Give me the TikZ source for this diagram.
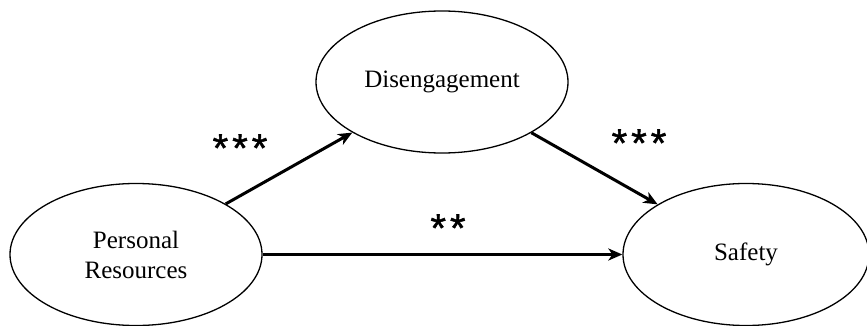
\documentclass[tikz,border=0pt]{standalone}
\usepackage{fontspec}
\setmainfont{Liberation Serif}
\newfontfamily\starfont[FakeBold=1.2]{Liberation Sans}
\usetikzlibrary{shapes.geometric,arrows.meta}
\tikzset{
  var/.style={ellipse, draw, line width=1.3pt, minimum width=252pt, minimum height=142pt, inner sep=0pt, align=center, font=\fontsize{25}{30}\selectfont},
  path/.style={line width=3pt, -{Stealth[length=14pt,width=12pt,inset=4pt]}},
  sig/.style={font=\starfont\fontsize{40}{40}\selectfont, inner sep=0pt}
}
\newcommand{\gapstar}{\kern4pt}
\begin{document}
\begin{tikzpicture}[x=1pt,y=-1pt]
\useasboundingbox (0,0) rectangle (867,326);
\node[var] (pr) at (136,254.5) {Personal\\Resources};
\node[var] (dis) at (442,82) {Disengagement};
\node[var, minimum width=246pt] (saf) at (746,254.5) {Safety};
\draw[path] (pr) -- (dis);
\draw[path] (dis) -- (saf);
\draw[path] (pr) -- (saf);
\node[sig] (s1) at (240,148) {*\gapstar*\gapstar*};
\node[sig] (s2) at (639,143) {*\gapstar*\gapstar*};
\node[sig] (s3) at (448,228) {*\gapstar*};
\end{tikzpicture}
\end{document}
